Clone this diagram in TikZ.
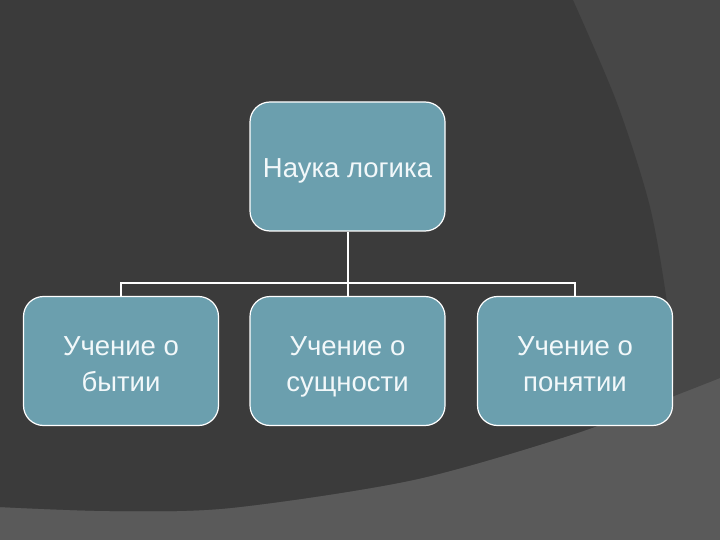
\documentclass[tikz,border=0pt]{standalone}
\usepackage{fontspec}
\setmainfont{Liberation Sans}
\definecolor{bglight}{HTML}{5A5A5A}
\definecolor{bgmid}{HTML}{474747}
\definecolor{bgdark}{HTML}{3B3B3B}
\definecolor{boxfill}{HTML}{6B9FAE}
\definecolor{txt}{HTML}{F2F8FA}
\newcommand{\topstrut}{\rule{0pt}{30pt}}
\newcommand{\botstrut}{\rule[-6pt]{0pt}{6pt}}
\tikzset{
  box/.style={draw=white, line width=1.2pt, fill=boxfill, rounded corners=20pt,
    minimum width=195pt, minimum height=129pt, inner sep=0pt, align=center,
    text=txt, font=\fontsize{27.5}{36}\selectfont},
  conn/.style={draw=white, line width=2pt}
}
\begin{document}
\begin{tikzpicture}[x=1pt,y=-1pt]
\useasboundingbox (0,0) rectangle (720,540);
\fill[bglight] (0,0) rectangle (720,540);
\fill[bgmid] (0,0) -- (720,0) -- plot[smooth] coordinates {(720,378) (674,396) (574,434) (413,480) (230,508) (110,511) (0,507)} -- cycle;
\fill[bgdark] (0,0) -- plot[smooth] coordinates {(573,0) (617,103) (650,207) (668,310) (673,380) (674,396)}
  -- plot[smooth] coordinates {(674,396) (574,434) (413,480) (230,508) (110,511) (0,507)} -- cycle;

\node[box, text height=23pt, text depth=0pt] (top) at (347.5,166.5) {Наука логика};
\node[box] (b1) at (121,361) {\topstrut Учение о\\\botstrut бытии};
\node[box] (b2) at (347.5,361) {\topstrut Учение о\\\botstrut сущности};
\node[box] (b3) at (575,361) {\topstrut Учение о\\\botstrut понятии};

\coordinate (bus) at (347.5,283);
\draw[conn] (top.south) -- (bus);
\draw[conn] (b1.north) -- (b1.north |- bus) -- (b3.north |- bus) -- (b3.north);
\draw[conn] (bus) -- (b2.north);
\end{tikzpicture}
\end{document}
